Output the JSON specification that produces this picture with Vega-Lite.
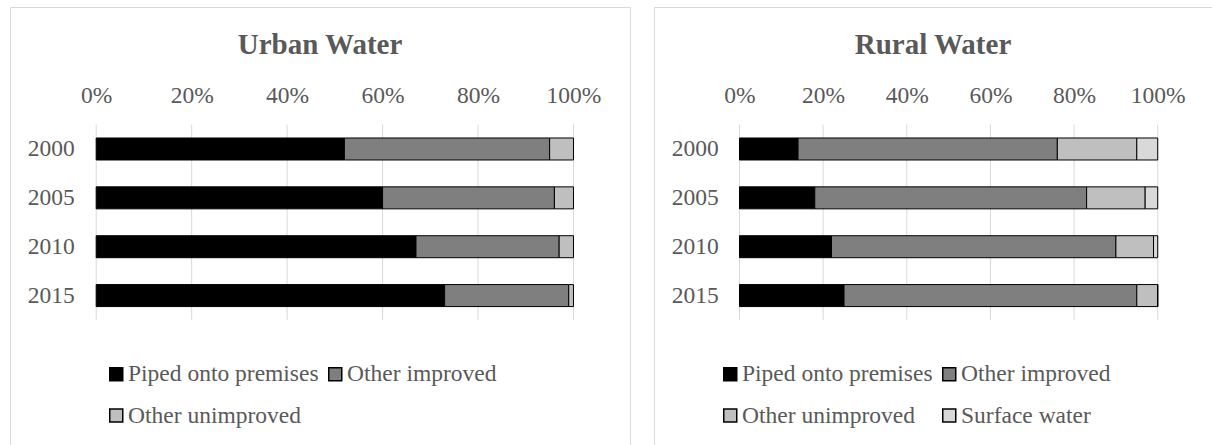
{
  "$schema": "https://vega.github.io/schema/vega-lite/v6.json",
  "background": "white",
  "padding": {"left": 9, "top": 6, "right": 0, "bottom": 0},
  "autosize": {"type": "pad"},
  "datasets": {
    "grid": [{"pct": 0}, {"pct": 20}, {"pct": 40}, {"pct": 60}, {"pct": 80}, {"pct": 100}],
    "urban": [
      {"year": 2000, "source": "Piped onto premises", "k": 1, "share": 52},
      {"year": 2000, "source": "Other improved", "k": 2, "share": 43},
      {"year": 2000, "source": "Other unimproved", "k": 3, "share": 5},
      {"year": 2005, "source": "Piped onto premises", "k": 1, "share": 60},
      {"year": 2005, "source": "Other improved", "k": 2, "share": 36},
      {"year": 2005, "source": "Other unimproved", "k": 3, "share": 4},
      {"year": 2010, "source": "Piped onto premises", "k": 1, "share": 67},
      {"year": 2010, "source": "Other improved", "k": 2, "share": 30},
      {"year": 2010, "source": "Other unimproved", "k": 3, "share": 3},
      {"year": 2015, "source": "Piped onto premises", "k": 1, "share": 73},
      {"year": 2015, "source": "Other improved", "k": 2, "share": 26},
      {"year": 2015, "source": "Other unimproved", "k": 3, "share": 1}
    ],
    "rural": [
      {"year": 2000, "source": "Piped onto premises", "k": 1, "share": 14},
      {"year": 2000, "source": "Other improved", "k": 2, "share": 62},
      {"year": 2000, "source": "Other unimproved", "k": 3, "share": 19},
      {"year": 2000, "source": "Surface water", "k": 4, "share": 5},
      {"year": 2005, "source": "Piped onto premises", "k": 1, "share": 18},
      {"year": 2005, "source": "Other improved", "k": 2, "share": 65},
      {"year": 2005, "source": "Other unimproved", "k": 3, "share": 14},
      {"year": 2005, "source": "Surface water", "k": 4, "share": 3},
      {"year": 2010, "source": "Piped onto premises", "k": 1, "share": 22},
      {"year": 2010, "source": "Other improved", "k": 2, "share": 68},
      {"year": 2010, "source": "Other unimproved", "k": 3, "share": 9},
      {"year": 2010, "source": "Surface water", "k": 4, "share": 1},
      {"year": 2015, "source": "Piped onto premises", "k": 1, "share": 25},
      {"year": 2015, "source": "Other improved", "k": 2, "share": 70},
      {"year": 2015, "source": "Other unimproved", "k": 3, "share": 5},
      {"year": 2015, "source": "Surface water", "k": 4, "share": 0}
    ]
  },
  "config": {
    "font": "Liberation Serif",
    "view": {"stroke": "#d9d9d9", "strokeWidth": 1},
    "axis": {
      "labelFont": "Liberation Serif",
      "labelFontSize": 23.5,
      "labelColor": "#595959",
      "domain": false,
      "ticks": false,
      "grid": false,
      "labelPadding": 0
    },
    "legend": {
      "orient": "none",
      "columns": 2,
      "labelFont": "Liberation Serif",
      "labelFontSize": 23.5,
      "labelColor": "#595959",
      "labelLimit": 0,
      "symbolType": "square",
      "symbolSize": 169,
      "symbolStrokeColor": "black",
      "symbolStrokeWidth": 1.5,
      "labelOffset": 0,
      "columnPadding": 4,
      "rowPadding": 16.8,
      "padding": 0
    },
    "title": {
      "font": "Liberation Serif",
      "fontSize": 29,
      "fontWeight": "bold",
      "color": "#595959",
      "anchor": "middle",
      "frame": "group",
      "baseline": "alphabetic",
      "offset": -53
    }
  },
  "spacing": 22,
  "resolve": {
    "scale": {"color": "independent", "x": "independent"},
    "legend": {"color": "independent"}
  },
  "hconcat": [
    {
      "width": 620,
      "height": 438,
      "title": {"text": "Urban Water"},
      "layer": [
        {
          "data": {"name": "grid"},
          "mark": {"type": "rule", "color": "#d9d9d9", "strokeWidth": 1},
          "encoding": {
            "x": {
              "field": "pct", "type": "quantitative", "title": null,
              "scale": {"domain": [-18.06, 111.84], "nice": false, "zero": false},
              "axis": {"orient": "top", "values": [0, 20, 40, 60, 80, 100], "labelExpr": "datum.value + '%'", "offset": -88.5, "labelBaseline": "middle", "labelAlign": "center", "labelFlush": false, "labelOverlap": false}
            },
            "y": {
              "datum": 1997.5, "type": "quantitative", "title": null,
              "scale": {"domain": [1985.98, 2029.78], "reverse": true, "nice": false, "zero": false},
              "axis": {"orient": "left", "values": [2000, 2005, 2010, 2015], "format": "d", "offset": -64.3, "labelAlign": "right", "labelBaseline": "middle"}
            },
            "y2": {"datum": 2017.5}
          }
        },
        {
          "data": {"name": "urban"},
          "mark": {"type": "bar", "orient": "horizontal", "size": 22, "stroke": "black", "strokeWidth": 1},
          "encoding": {
            "y": {
              "field": "year", "type": "quantitative", "title": null,
              "scale": {"domain": [1985.98, 2029.78], "reverse": true, "nice": false, "zero": false},
              "axis": {"orient": "left", "values": [2000, 2005, 2010, 2015], "format": "d", "offset": -64.3, "labelAlign": "right", "labelBaseline": "middle"}
            },
            "x": {
              "field": "share", "type": "quantitative", "stack": "zero", "title": null,
              "scale": {"domain": [-18.06, 111.84], "nice": false, "zero": false},
              "axis": {"orient": "top", "values": [0, 20, 40, 60, 80, 100], "labelExpr": "datum.value + '%'", "offset": -88.5, "labelBaseline": "middle", "labelAlign": "center", "labelFlush": false, "labelOverlap": false}
            },
            "color": {
              "field": "source", "type": "nominal",
              "scale": {"domain": ["Piped onto premises", "Other unimproved", "Other improved"], "range": ["#000000", "#bfbfbf", "#7f7f7f"]},
              "legend": {"title": null, "legendX": 94.5, "legendY": 355}
            },
            "order": {"field": "k", "type": "quantitative"}
          }
        }
      ]
    },
    {
      "width": 558,
      "height": 438,
      "title": {"text": "Rural Water"},
      "layer": [
        {
          "data": {"name": "grid"},
          "mark": {"type": "rule", "color": "#d9d9d9", "strokeWidth": 1},
          "encoding": {
            "x": {
              "field": "pct", "type": "quantitative", "title": null,
              "scale": {"domain": [-20.44, 112.98], "nice": false, "zero": false},
              "axis": {"orient": "top", "values": [0, 20, 40, 60, 80, 100], "labelExpr": "datum.value + '%'", "offset": -88.5, "labelBaseline": "middle", "labelAlign": "center", "labelFlush": false, "labelOverlap": false}
            },
            "y": {
              "datum": 1997.5, "type": "quantitative", "title": null,
              "scale": {"domain": [1985.98, 2029.78], "reverse": true, "nice": false, "zero": false},
              "axis": {"orient": "left", "values": [2000, 2005, 2010, 2015], "format": "d", "offset": -64.3, "labelAlign": "right", "labelBaseline": "middle"}
            },
            "y2": {"datum": 2017.5}
          }
        },
        {
          "data": {"name": "rural"},
          "mark": {"type": "bar", "orient": "horizontal", "size": 22, "stroke": "black", "strokeWidth": 1},
          "encoding": {
            "y": {
              "field": "year", "type": "quantitative", "title": null,
              "scale": {"domain": [1985.98, 2029.78], "reverse": true, "nice": false, "zero": false},
              "axis": {"orient": "left", "values": [2000, 2005, 2010, 2015], "format": "d", "offset": -64.3, "labelAlign": "right", "labelBaseline": "middle"}
            },
            "x": {
              "field": "share", "type": "quantitative", "stack": "zero", "title": null,
              "scale": {"domain": [-20.44, 112.98], "nice": false, "zero": false},
              "axis": {"orient": "top", "values": [0, 20, 40, 60, 80, 100], "labelExpr": "datum.value + '%'", "offset": -88.5, "labelBaseline": "middle", "labelAlign": "center", "labelFlush": false, "labelOverlap": false}
            },
            "color": {
              "field": "source", "type": "nominal",
              "scale": {"domain": ["Piped onto premises", "Other unimproved", "Other improved", "Surface water"], "range": ["#000000", "#bfbfbf", "#7f7f7f", "#d9d9d9"]},
              "legend": {"title": null, "legendX": 64.5, "legendY": 355}
            },
            "order": {"field": "k", "type": "quantitative"}
          }
        }
      ]
    }
  ]
}
